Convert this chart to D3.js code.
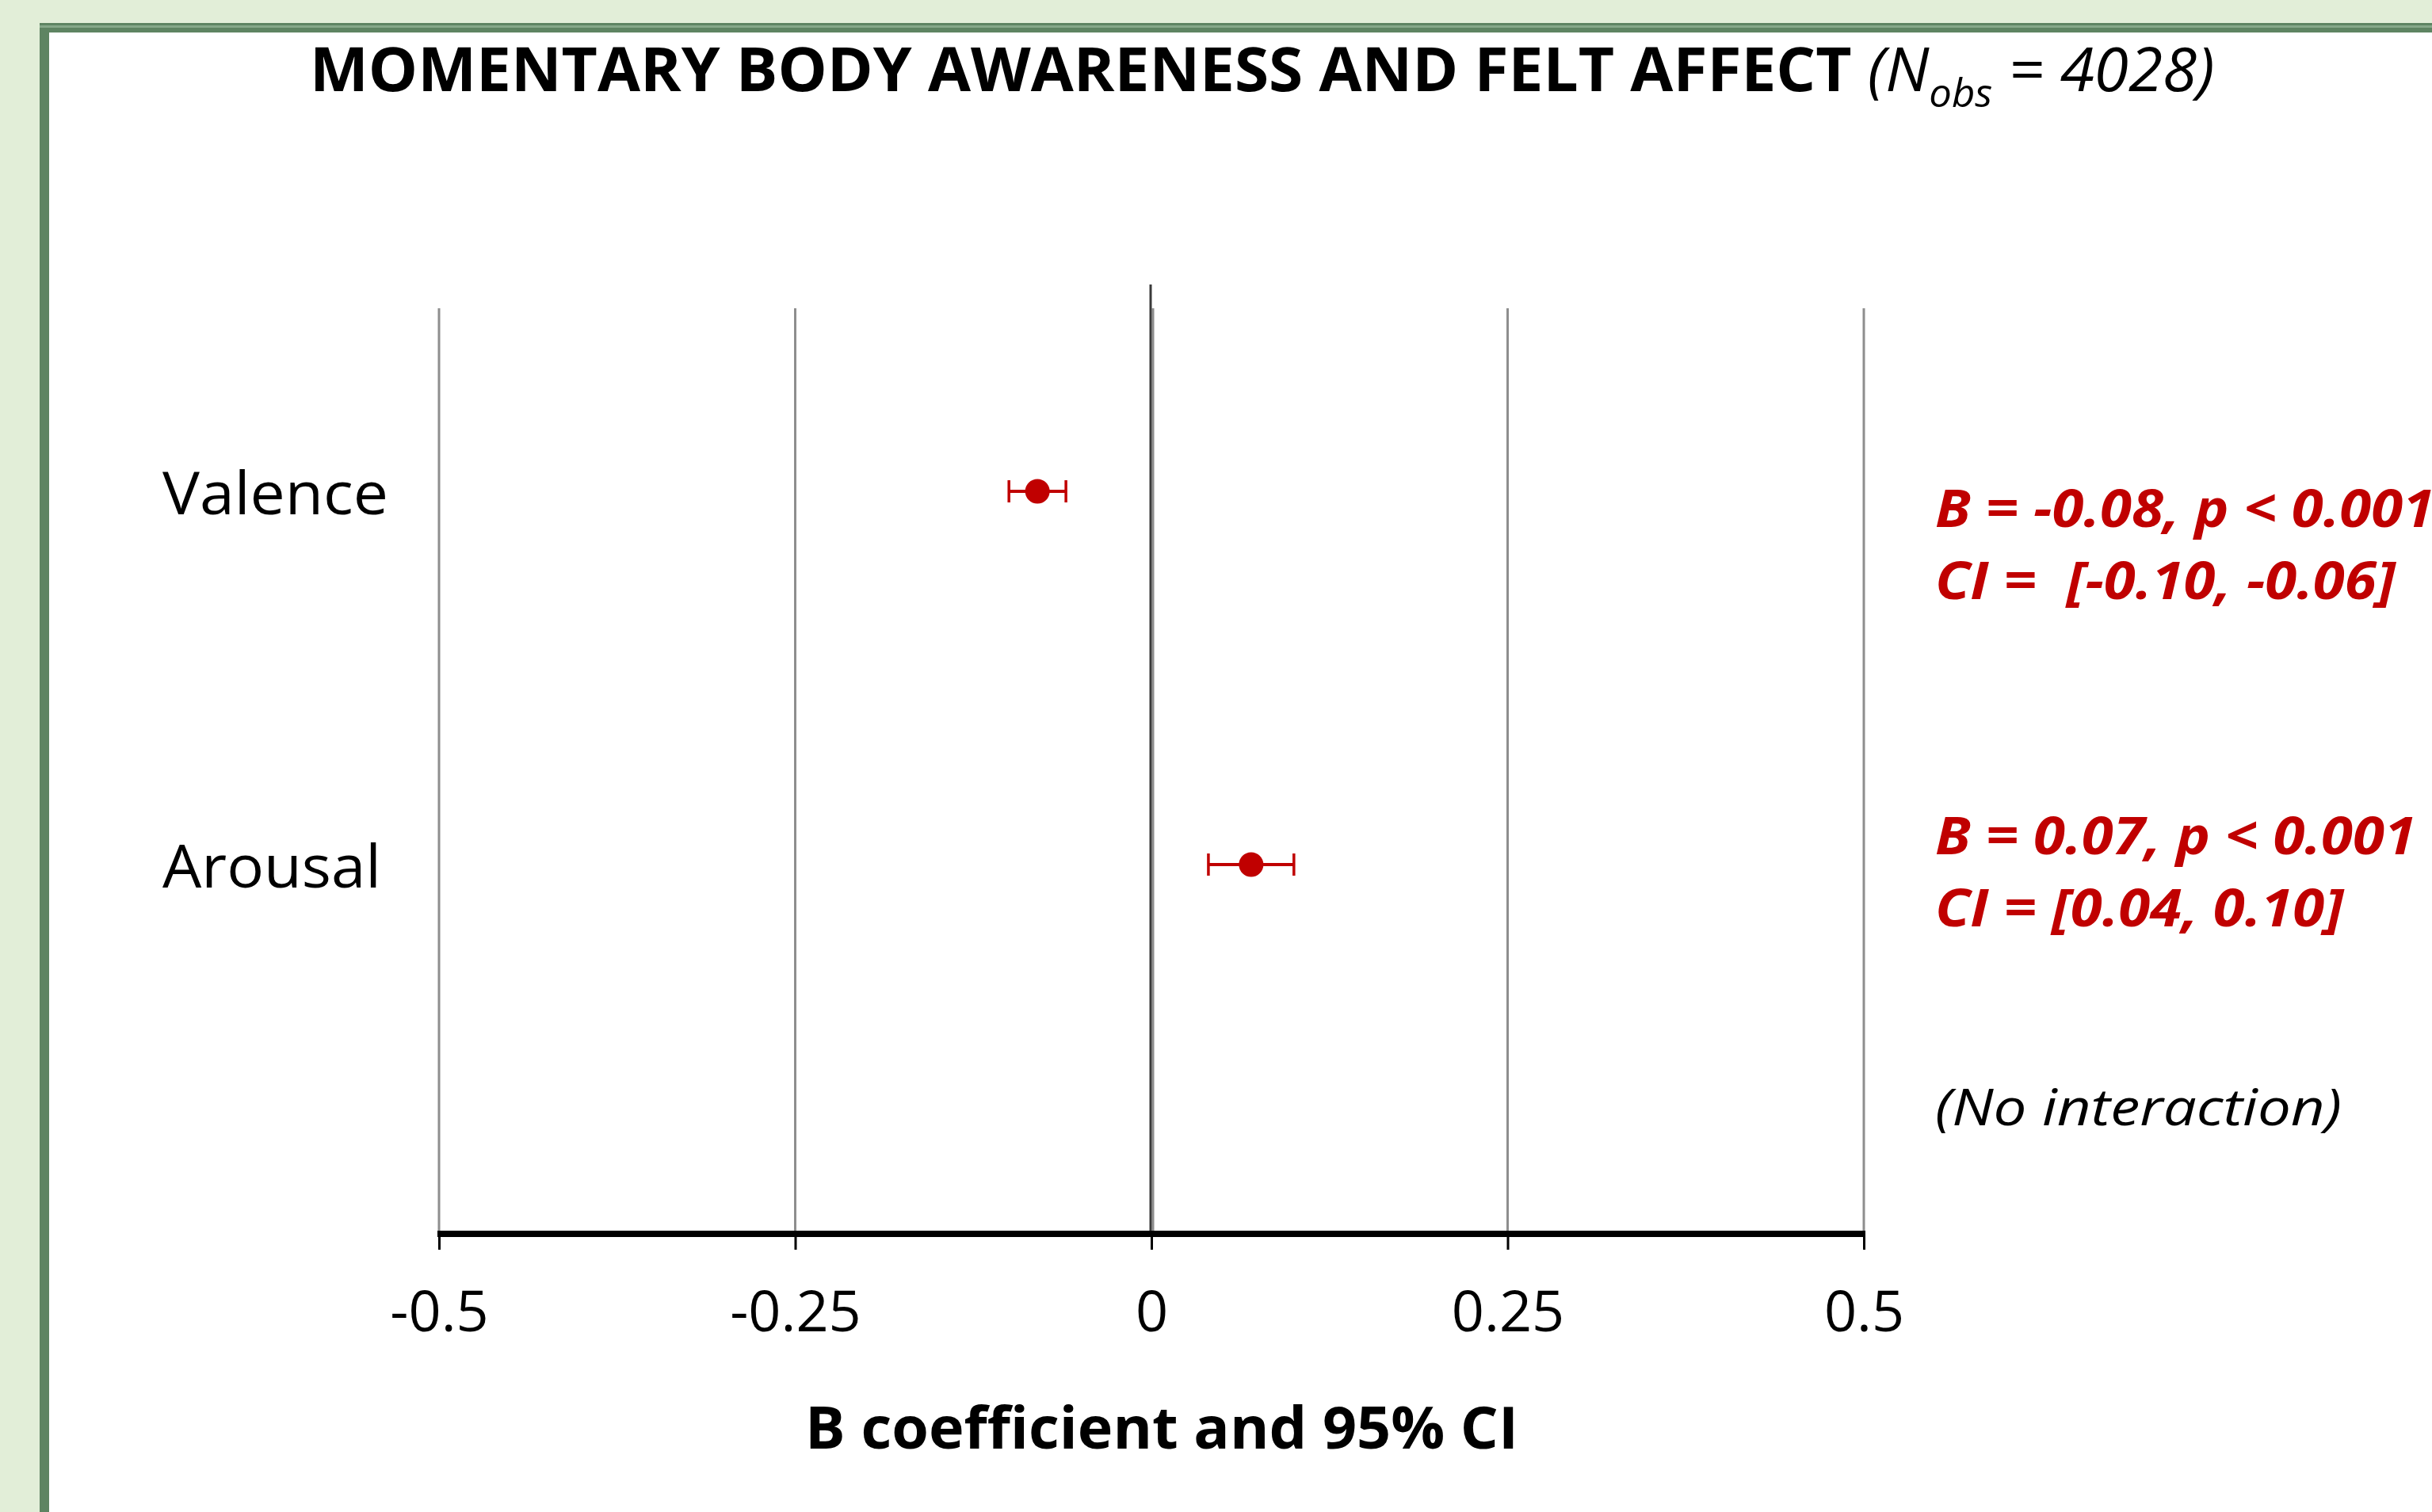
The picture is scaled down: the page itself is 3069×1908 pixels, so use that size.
<!DOCTYPE html>
<html>
<head>
<meta charset="utf-8">
<script src="https://cdn.jsdelivr.net/npm/d3@7"></script>
<style>
  body { margin: 0; background: #e2eed8; }
  svg { display: block; }
  text { font-family: "Open Sans", sans-serif; white-space: pre; }
</style>
</head>
<body>
<div id="chart"></div>
<script>
// data
var categories = ["Valence", "Arousal"];
var estimates = [-0.08, 0.07];
var ciLow = [-0.10, 0.04];
var ciHigh = [-0.06, 0.10];
var statLines = [
    ["B = -0.08, p < 0.001", "CI =  [-0.10, -0.06]"],
    ["B = 0.07, p < 0.001", "CI = [0.04, 0.10]"]
];
var xTicks = [-0.5, -0.25, 0, 0.25, 0.5];
var xTickLabels = ["-0.5", "-0.25", "0", "0.25", "0.5"];

var width = 3069, height = 1908;
var red = "#c00000";

// squeeze/stretch a text so it spans the wanted width (Calibri is narrower than Open Sans)
function fitWidth(sel, x0, target) {
    var w = sel.node().getBBox().width;
    var s = target / w;
    sel.attr("transform", "translate(" + x0 + ",0) scale(" + s + ",1) translate(" + (-x0) + ",0)");
    return s;
}

var svg = d3.select("#chart")
    .append("svg")
    .attr("width", width)
    .attr("height", height);

// slide frame
svg.append("rect").attr("x", 0).attr("y", 0).attr("width", width).attr("height", height).attr("fill", "#e2eed8");
svg.append("rect").attr("x", 50).attr("y", 29).attr("width", width).attr("height", height).attr("fill", "#5e8462");
svg.append("rect").attr("x", 50).attr("y", 32).attr("width", width).attr("height", 3).attr("fill", "#86a889");
svg.append("rect").attr("x", 62).attr("y", 41).attr("width", width).attr("height", height).attr("fill", "#ffffff");

var x = d3.scaleLinear().domain([-0.5, 0.5]).range([554, 2352]);
var y = d3.scalePoint().domain(categories).range([620, 1091]);
var axisY = 1557;

// vertical gridlines
svg.append("g")
    .selectAll("line")
    .data(xTicks)
    .enter()
    .append("line")
    .attr("x1", function(d) { return x(d) + (d === 0 ? 2 : 0); })
    .attr("x2", function(d) { return x(d) + (d === 0 ? 2 : 0); })
    .attr("y1", 389)
    .attr("y2", axisY)
    .attr("stroke", "#8e8e8e")
    .attr("stroke-width", 3);

// zero line
svg.append("line")
    .attr("x1", x(0) - 1).attr("x2", x(0) - 1)
    .attr("y1", 359).attr("y2", axisY)
    .attr("stroke", "#3a3a3a")
    .attr("stroke-width", 3);

// x axis
var xAxis = d3.axisBottom(x)
    .tickValues(xTicks)
    .tickSize(20)
    .tickSizeOuter(0)
    .tickFormat(function(d, i) { return xTickLabels[i]; });

var gx = svg.append("g")
    .attr("transform", "translate(0," + axisY + ")")
    .call(xAxis);
gx.select(".domain").attr("stroke", "#000").attr("stroke-width", 8)
    .attr("d", "M" + (x(-0.5) - 2) + ",0H" + (x(0.5) + 2));
gx.selectAll(".tick line").attr("stroke", "#000").attr("stroke-width", 3);
gx.selectAll(".tick text")
    .attr("y", 1680 - axisY)
    .attr("dy", 0)
    .attr("fill", "#000")
    .style("font-family", "'Open Sans', sans-serif")
    .style("font-size", "72px");

// category labels
svg.append("g")
    .selectAll("text")
    .data(categories)
    .enter()
    .append("text")
    .attr("x", 205)
    .attr("y", function(d) { return y(d) + 29; })
    .style("font-size", "75px")
    .attr("fill", "#000")
    .text(function(d) { return d; })
    .each(function(d) {
        fitWidth(d3.select(this), 205, d === "Valence" ? 285 : 276);
    });

// error bars and points
var rows = categories.map(function(c, i) {
    return { cat: c, est: estimates[i], lo: ciLow[i], hi: ciHigh[i] };
});

var marks = svg.append("g")
    .selectAll("g")
    .data(rows)
    .enter()
    .append("g");

marks.append("line")
    .attr("x1", function(d) { return x(d.lo); })
    .attr("x2", function(d) { return x(d.hi); })
    .attr("y1", function(d) { return y(d.cat); })
    .attr("y2", function(d) { return y(d.cat); })
    .attr("stroke", red)
    .attr("stroke-width", 4);

["lo", "hi"].forEach(function(k) {
    marks.append("line")
        .attr("x1", function(d) { return x(d[k]); })
        .attr("x2", function(d) { return x(d[k]); })
        .attr("y1", function(d) { return y(d.cat) - 14; })
        .attr("y2", function(d) { return y(d.cat) + 14; })
        .attr("stroke", red)
        .attr("stroke-width", 3.5);
});

marks.append("circle")
    .attr("cx", function(d) { return x(d.est); })
    .attr("cy", function(d) { return y(d.cat); })
    .attr("r", 15.5)
    .attr("fill", red);

// stats text on the right
var annotX = 2442;
var annotBase = [665, 1078];
var probe = svg.append("text")
    .attr("x", annotX).attr("y", -100)
    .style("font-size", "66px").style("font-weight", "bold").style("font-style", "italic")
    .text(statLines[1][0]);
var annotScale = 607 / probe.node().getBBox().width;
probe.remove();

statLines.forEach(function(lines, i) {
    lines.forEach(function(line, j) {
        svg.append("text")
            .attr("x", annotX)
            .attr("y", annotBase[i] + j * 91)
            .attr("fill", red)
            .style("font-size", "66px")
            .style("font-weight", "bold")
            .style("font-style", "italic")
            .attr("transform", "translate(" + annotX + ",0) scale(" + annotScale + ",1) translate(" + (-annotX) + ",0)")
            .text(line);
    });
});

var noInt = svg.append("text")
    .attr("x", annotX)
    .attr("y", 1420)
    .attr("fill", "#000")
    .style("font-size", "64px")
    .style("font-style", "italic")
    .text("(No interaction)");
fitWidth(noInt, annotX, 513);

// axis title
var xTitle = svg.append("text")
    .attr("x", 1466)
    .attr("y", 1828)
    .attr("text-anchor", "middle")
    .attr("fill", "#000")
    .style("font-size", "74px")
    .style("font-weight", "bold")
    .text("B coefficient and 95% CI");
fitWidth(xTitle, 1466, 900);

// chart title
var title = svg.append("text")
    .attr("x", 391)
    .attr("y", 115)
    .attr("fill", "#000")
    .style("font-size", "77px");
title.append("tspan").style("font-weight", "bold").text("MOMENTARY BODY AWARENESS AND FELT AFFECT ");
title.append("tspan").style("font-style", "italic").text("(N");
title.append("tspan").style("font-style", "italic").style("font-size", "50px").attr("dy", 20).text("obs");
title.append("tspan").style("font-style", "italic").attr("dy", -20).text(" = 4028)");
fitWidth(title, 391, 2404);
</script>
</body>
</html>
